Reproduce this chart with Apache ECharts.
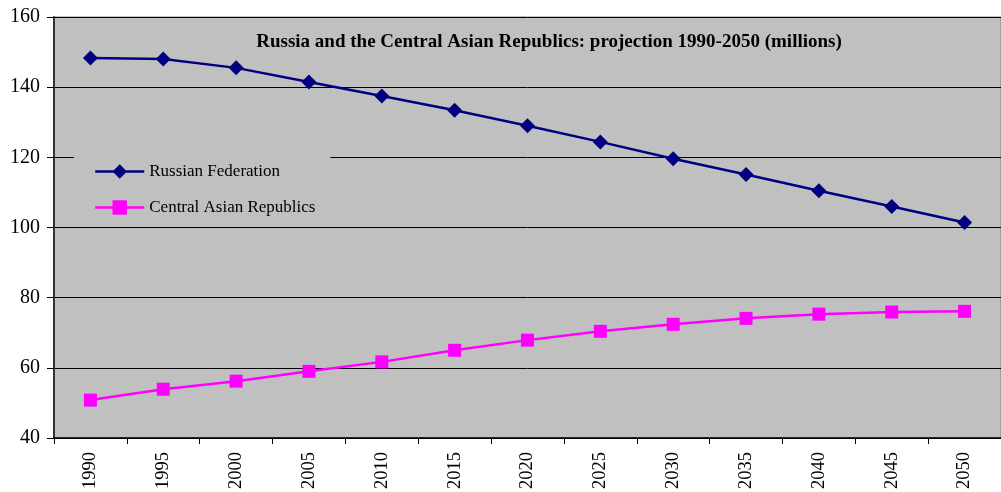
<!DOCTYPE html>
<html>
<head>
<meta charset="utf-8">
<script src="https://cdn.jsdelivr.net/npm/echarts@6/dist/echarts.min.js"></script>
<style>
  html, body { margin: 0; padding: 0; background: #fff; }
</style>
</head>
<body>
<div id="main" style="width: 1001px; height: 492px"></div>
<script>
var years = ['1990', '1995', '2000', '2005', '2010', '2015', '2020', '2025', '2030', '2035', '2040', '2045', '2050'];
var russia = [148.3, 148.0, 145.5, 141.5, 137.5, 133.4, 129.0, 124.4, 119.6, 115.1, 110.5, 106.0, 101.4];
var centralAsia = [50.8, 53.9, 56.2, 59.0, 61.7, 65.0, 67.9, 70.4, 72.4, 74.1, 75.3, 75.9, 76.1];
var yTicks = [40, 60, 80, 100, 120, 140, 160];

var serif = '"Liberation Serif", "Times New Roman", serif';
var myChart = echarts.init(document.getElementById('main'));

var option = {
  animation: false,
  textStyle: { fontFamily: serif },
  title: {
    text: 'Russia and the Central Asian Republics: projection 1990-2050 (millions)',
    left: 544,
    textAlign: 'center',
    top: 28,
    textStyle: { fontFamily: serif, fontSize: 19, fontWeight: 'bold', color: '#000' }
  },
  legend: {
    orient: 'vertical',
    left: 74,
    top: 151,
    padding: [12, 15, 6, 20],
    backgroundColor: '#c0c0c0',
    itemWidth: 49,
    itemHeight: 18,
    itemGap: 19,
    lineStyle: { width: 2.5 },
    textStyle: { fontFamily: serif, fontSize: 17, color: '#000', lineHeight: 17 },
    data: ['Russian Federation', 'Central Asian Republics']
  },
  grid: {
    left: 54,
    top: 17,
    right: -5,
    bottom: 53,
    show: true,
    backgroundColor: '#c0c0c0',
    borderColor: '#808080',
    borderWidth: 1
  },
  xAxis: {
    type: 'category',
    data: years,
    boundaryGap: true,
    axisLine: { lineStyle: { color: '#000', width: 1.5 } },
    axisTick: { show: true, length: 6, lineStyle: { color: '#000' } },
    axisLabel: { rotate: 90, margin: 14, fontFamily: serif, fontSize: 18.5, color: '#000' }
  },
  yAxis: {
    type: 'value',
    min: yTicks[0],
    max: yTicks[yTicks.length - 1],
    interval: 20,
    axisLine: { show: true, lineStyle: { color: '#333', width: 2 } },
    axisTick: { show: true, inside: false, length: 7, lineStyle: { color: '#000' } },
    axisLabel: { margin: 14, fontFamily: serif, fontSize: 20, color: '#000' },
    splitLine: { show: true, lineStyle: { color: '#000', width: 1 } }
  },
  series: [
    {
      name: 'Russian Federation',
      type: 'line',
      data: russia,
      symbol: 'diamond',
      symbolSize: 15,
      itemStyle: { color: '#000080' },
      lineStyle: { color: '#000080', width: 2.5 }
    },
    {
      name: 'Central Asian Republics',
      type: 'line',
      data: centralAsia,
      symbol: 'rect',
      symbolSize: 13,
      itemStyle: { color: '#ff00ff' },
      lineStyle: { color: '#ff00ff', width: 2.5 }
    }
  ]
};

myChart.setOption(option);
</script>
</body>
</html>
